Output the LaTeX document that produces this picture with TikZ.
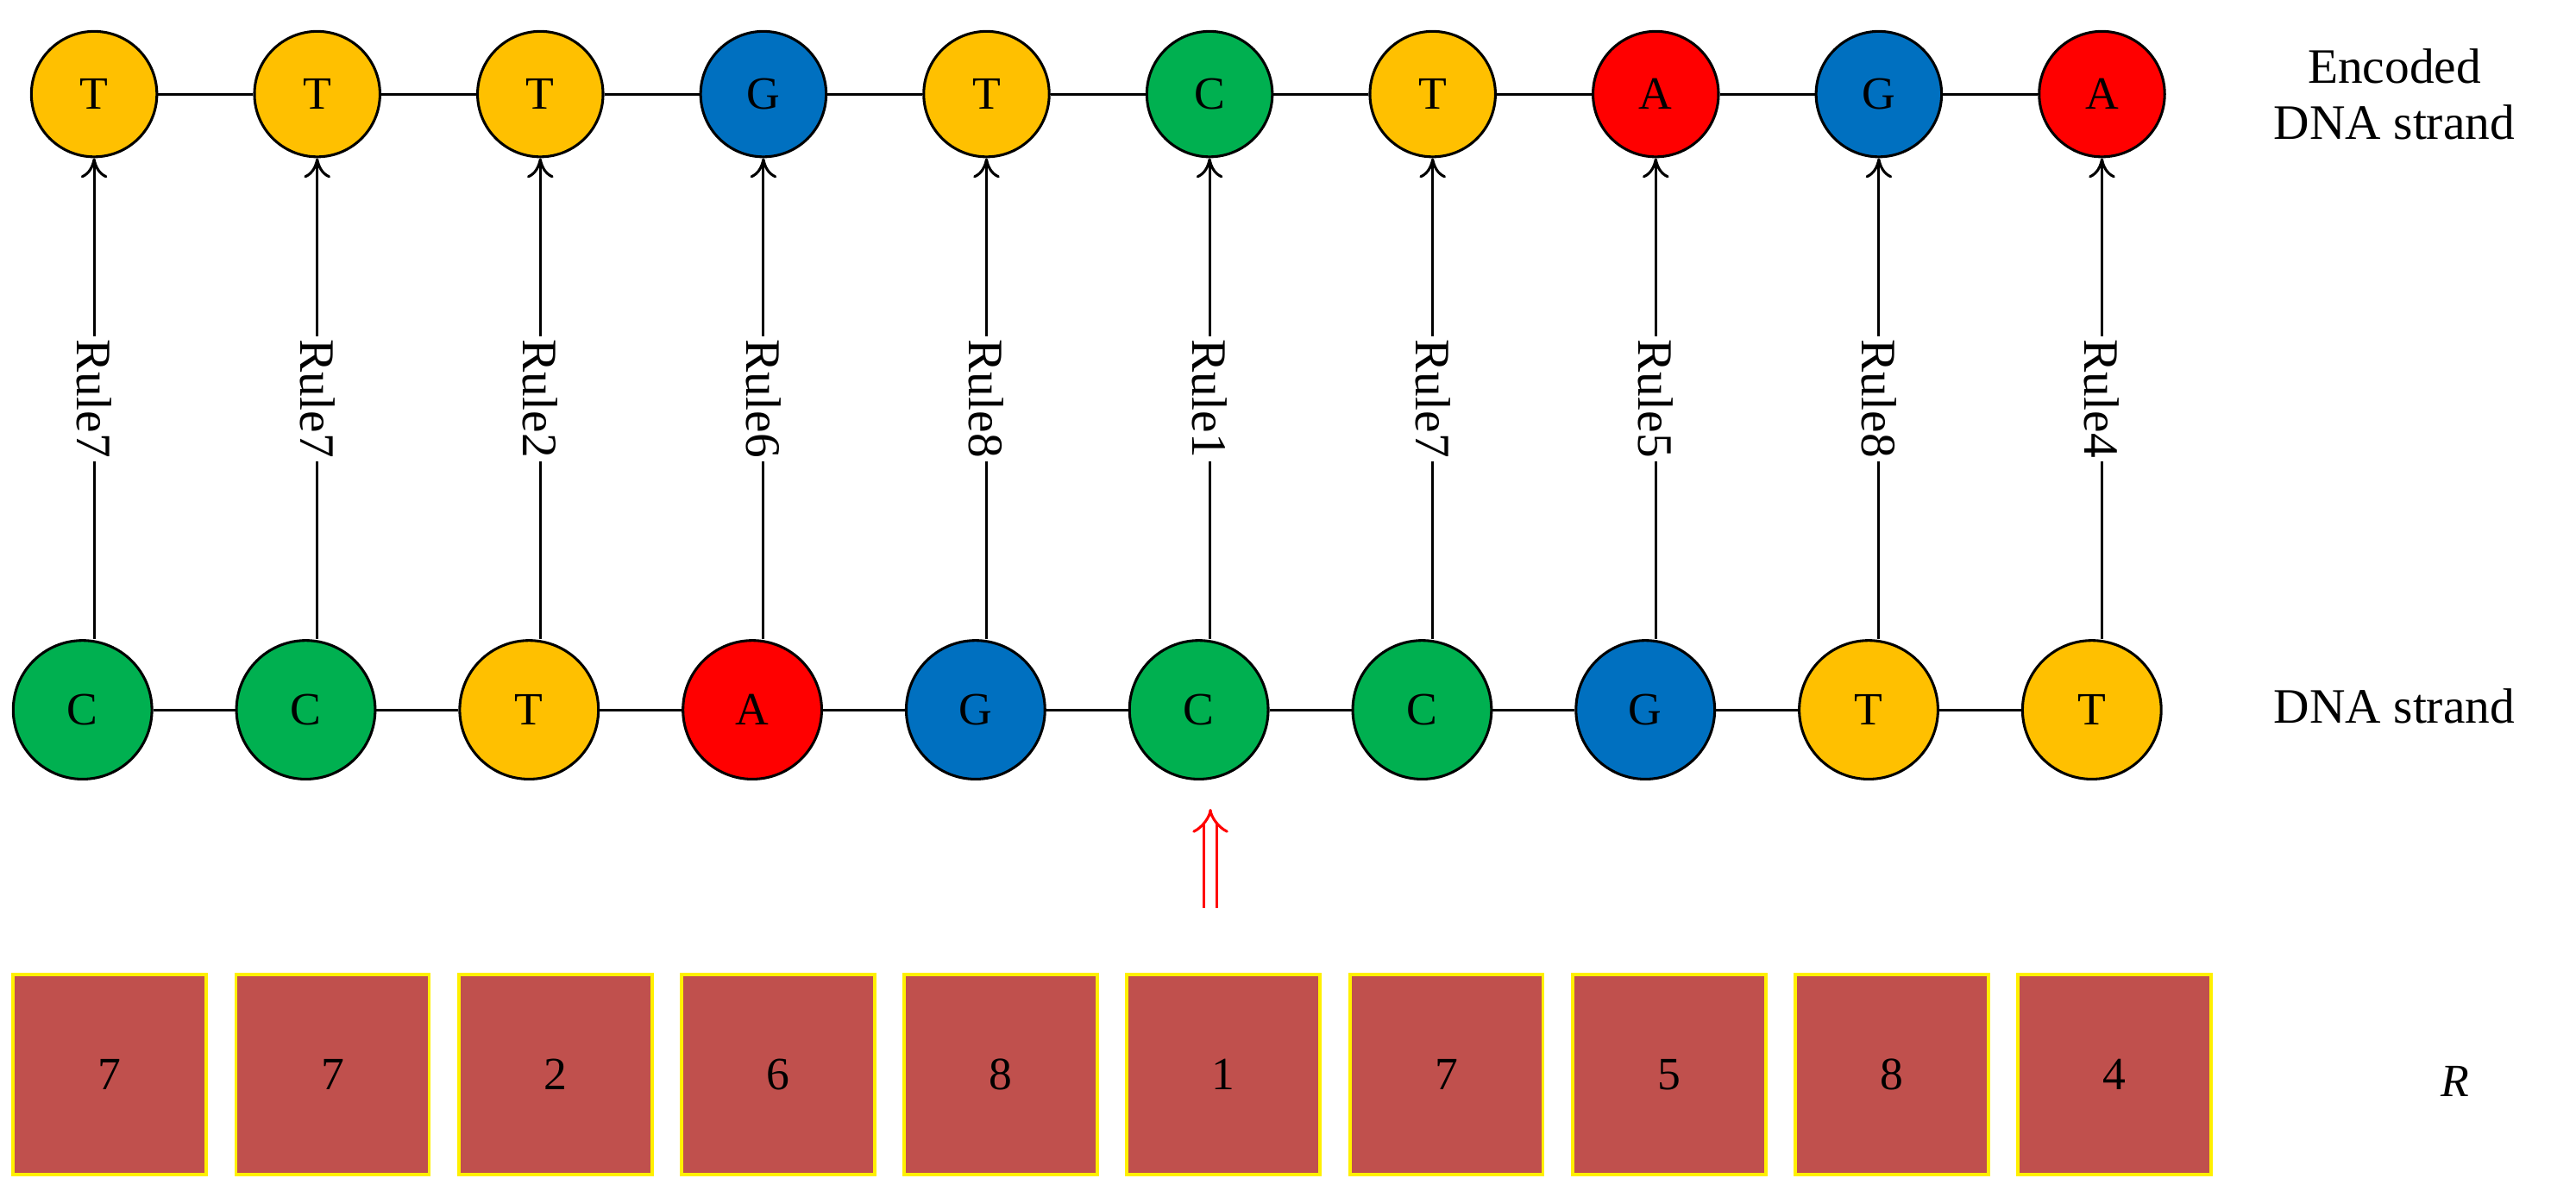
\documentclass[tikz,border=0pt]{standalone}
\usepackage{fontspec}
\setmainfont{Liberation Serif}
\usetikzlibrary{arrows.meta}
\definecolor{baseT}{RGB}{255,192,0}
\definecolor{baseC}{RGB}{0,176,80}
\definecolor{baseG}{RGB}{0,112,192}
\definecolor{baseA}{RGB}{255,0,0}
\definecolor{keybox}{RGB}{192,80,77}
\definecolor{keyedge}{RGB}{255,240,0}
\tikzset{every picture/.style={line width=1.6pt}}
\tikzset{
  base/.style={circle,draw=black,inner sep=0pt,font=\fontsize{28}{30}\selectfont},
  topbase/.style={base,minimum size=76pt},
  botbase/.style={base,minimum size=84pt},
  key/.style={draw=keyedge,fill=keybox,minimum width=117pt,minimum height=121pt,line width=2pt,font=\fontsize{28}{30}\selectfont},
  rule/.style={midway,fill=white,rotate=-90,inner sep=2pt,font=\fontsize{30}{32}\selectfont}
}
\begin{document}
\begin{tikzpicture}[x=1pt,y=1pt,yscale=-1]
\useasboundingbox (0,0) rectangle (1560,725);

% encoded strand
\foreach \b [count=\i] in {T,T,T,G,T,C,T,A,G,A}
  \node[topbase,fill=base\b] (e\i) at ({57+135.1*(\i-1)},57) {\b};
% plain strand
\foreach \b [count=\i] in {C,C,T,A,G,C,C,G,T,T}
  \node[botbase,fill=base\b] (d\i) at ({50+135.2*(\i-1)},430) {\b};
% key squares
\foreach \k [count=\i] in {7,7,2,6,8,1,7,5,8,4}
  \node[key] (r\i) at ({66.5+134.9*(\i-1)},651) {\k};

\foreach \i [remember=\i as \j (initially 1)] in {2,...,10}{
  \draw (e\j) -- (e\i);
  \draw (d\j) -- (d\i);
}
\foreach \n [count=\i] in {7,7,2,6,8,1,7,5,8,4}
  \draw[-{To[length=12pt,width=16pt]}] (e\i |- d\i.north) -- (e\i) node[rule] {Rule\n};

\coordinate (up1) at (733,550);
\coordinate (up2) at (733,490);
\draw[red,double distance=6pt,line width=1.6pt,-{Implies[length=10pt]}] (up1) -- (up2);

\node[align=center,font=\fontsize{30}{34}\selectfont] (lenc) at (1450,57) {Encoded\\DNA strand};
\node[font=\fontsize{30}{34}\selectfont] (ldna) at (1450,428) {DNA strand};
\node[font=\fontsize{28}{30}\selectfont\itshape] (lkey) at (1487,655) {R};
\end{tikzpicture}
\end{document}
